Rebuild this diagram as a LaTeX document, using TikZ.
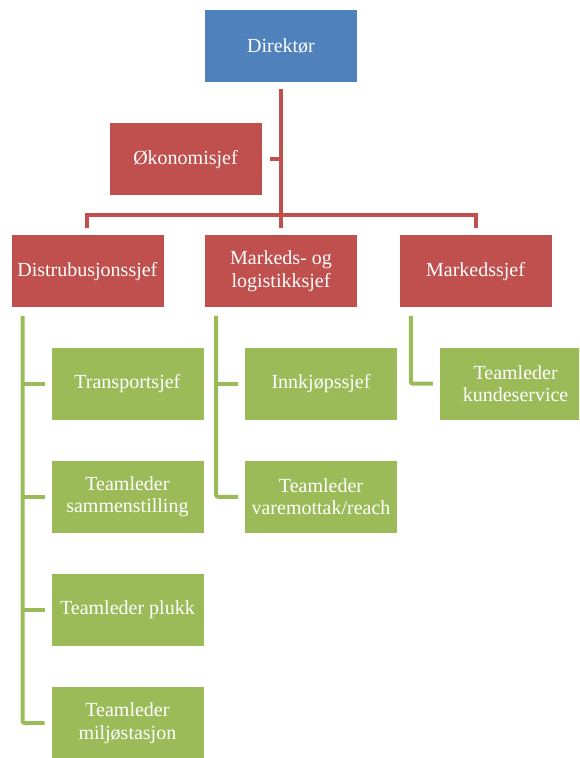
\documentclass[tikz,border=0pt]{standalone}
\usepackage{fontspec}
\setmainfont{Liberation Serif}
\usetikzlibrary{positioning}

\definecolor{dirblue}{HTML}{4F81BD}
\definecolor{chefred}{HTML}{C0504D}
\definecolor{teamgreen}{HTML}{9BBB59}

\tikzset{
    orgbox/.style={rectangle, draw=white, line width=0.6pt, minimum width=153pt, minimum height=73pt,
        inner sep=2pt, text=white, align=center, font=\fontsize{20}{22.5}\selectfont},
    dirbox/.style={orgbox, fill=dirblue},
    chefbox/.style={orgbox, fill=chefred},
    teambox/.style={orgbox, fill=teamgreen},
    redline/.style={draw=chefred, line width=4pt},
    greenline/.style={draw=teamgreen, line width=4pt, rounded corners=2pt}
}

\begin{document}
\begin{tikzpicture}
    
        \useasboundingbox (0,0) rectangle (579pt,-758pt);
        \clip (0,0) rectangle (579pt,-758pt);
    
        % Top node
        \node[dirbox] (dir) at (281pt,-45.5pt) {Direktør};
        
        % Staff node
        \node[chefbox, below=40pt of dir, xshift=-95.5pt] (oko) {Økonomisjef};
        
        % Second level
        \node[chefbox, below=152pt of dir] (mid) {Markeds- og\\logistikksjef};
        \node[chefbox, left=40pt of mid] (dist) {Distrubusjonssjef};
        \node[chefbox, right=41pt of mid] (mark) {Markedssjef};
        
        % Teams under Distrubusjonssjef
        \node[teambox, below=39pt of dist, xshift=40pt] (t1) {Transportsjef};
        \node[teambox, below=39.5pt of t1] (t2) {Teamleder\\sammenstilling};
        \node[teambox, below=39.5pt of t2] (t3) {Teamleder plukk};
        \node[teambox, below=39.5pt of t3] (t4) {Teamleder\\miljøstasjon};
        
        % Teams under Markeds- og logistikksjef
        \node[teambox, below=39pt of mid, xshift=40pt] (i1) {Innkjøpssjef};
        \node[teambox, below=39.5pt of i1] (i2) {Teamleder\\varemottak/reach};
        
        % Team under Markedssjef
        \node[teambox, below=39pt of mark, xshift=40pt] (k1) {Teamleder\\kundeservice};
        
        % Connections: red lines
        \draw[redline] ([yshift=-7pt]dir.south) -- ([yshift=6pt]mid.north);
        \draw[redline] ([xshift=8pt]oko.east) -- (oko.east -| dir.south);
        \draw[redline] ([yshift=6pt]dist.north) |- ([yshift=19pt]mid.north) -| ([yshift=6pt]mark.north);
        
        % Connections: green lines
        \coordinate (dtrunk) at ([xshift=12pt,yshift=-8pt]dist.south west);
        \coordinate (itrunk) at ([xshift=12pt,yshift=-8pt]mid.south west);
        \coordinate (ktrunk) at ([xshift=12pt,yshift=-8pt]mark.south west);
        \draw[greenline] (dtrunk) |- ([xshift=-6pt]t4.west);
        \foreach \t in {t1,t2,t3}
            \draw[greenline] (dtrunk |- \t.west) -- ([xshift=-6pt]\t.west);
        \draw[greenline] (itrunk) |- ([xshift=-6pt]i2.west);
        \draw[greenline] (itrunk |- i1.west) -- ([xshift=-6pt]i1.west);
        \draw[greenline] (ktrunk) |- ([xshift=-6pt]k1.west);
        
    \end{tikzpicture}
\end{document}
